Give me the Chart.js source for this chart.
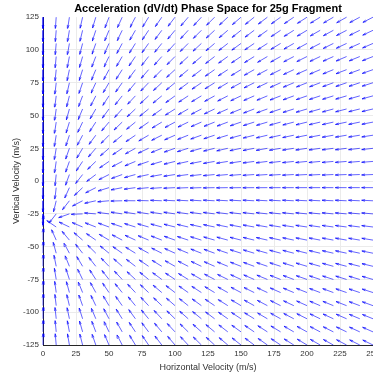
<!DOCTYPE html>
<html>
<head>
<meta charset="utf-8">
<script src="https://cdn.jsdelivr.net/npm/chart.js@4/dist/chart.umd.min.js"></script>
<style>
  html, body { margin: 0; padding: 0; background: #fff; overflow: hidden; }
  #wrap { width: 373px; height: 373px; overflow: hidden; position: relative; }
  canvas { display: block; }
</style>
</head>
<body>
<div id="wrap"><canvas id="c" width="390" height="373"></canvas></div>
<script>
// Grid of velocity states (m/s) where arrows are drawn
const horizontalVelocities = [0,10,20,30,40,50,60,70,80,90,100,110,120,130,140,150,160,170,180,190,200,210,220,230,240,250];
const verticalVelocities = [-125,-115,-105,-95,-85,-75,-65,-55,-45,-35,-25,-15,-5,5,15,25,35,45,55,65,75,85,95,105,115,125];
// Tick labels
const xTickValues = [0,25,50,75,100,125,150,175,200,225,250];
const yTickValues = [-125,-100,-75,-50,-25,0,25,50,75,100,125];
// Model parameters (terminal fall speed read from where the arrows converge)
const gravity = 9.81;
const terminalVelocity = 32;

const dragK = gravity / (terminalVelocity * terminalVelocity);
const arrowLen = 8.6;   // arrow length in data units (normalized direction)
const headA = 0.3, headB = 0.26;

const pts = [];
for (const vx of horizontalVelocities) {
  for (const vy of verticalVelocities) {
    const sp = Math.hypot(vx, vy);
    let ax = -dragK * sp * vx;
    let ay = -gravity - dragK * sp * vy;
    const m = Math.hypot(ax, ay) || 1;
    const u = ax / m * arrowLen, v = ay / m * arrowLen;
    const tx = vx + u, ty = vy + v;
    pts.push({x: vx, y: vy}, {x: tx, y: ty}, {x: tx, y: null});
    pts.push({x: tx - headA * (u + headB * v), y: ty - headA * (v - headB * u)});
    pts.push({x: tx, y: ty});
    pts.push({x: tx - headA * (u - headB * v), y: ty - headA * (v + headB * u)});
    pts.push({x: tx, y: null});
  }
}

const FONT = '"Liberation Sans", Arial, Helvetica, sans-serif';

// center the chart title over the plot area (as the original does)
const titleOverPlot = {
  id: 'titleOverPlot',
  afterLayout(chart) {
    const tb = chart.titleBlock, ca = chart.chartArea;
    if (tb && ca) { tb.left = ca.left; tb.right = ca.right; tb.width = ca.right - ca.left; }
  }
};

new Chart(document.getElementById('c'), {
  type: 'line',
  data: {
    datasets: [{
      label: 'dV/dt',
      data: pts,
      borderColor: 'rgba(0,0,255,0.72)',
      borderWidth: 0.85,
      pointRadius: 0,
      spanGaps: false,
      tension: 0,
      fill: false,
      clip: 4
    }]
  },
  plugins: [titleOverPlot],
  options: {
    responsive: false,
    animation: false,
    devicePixelRatio: 1,
    layout: { padding: { left: 0, right: 17, top: 0, bottom: 0 } },
    plugins: {
      legend: { display: false },
      tooltip: { enabled: false },
      title: {
        display: true,
        text: 'Acceleration (dV/dt) Phase Space for 25g Fragment',
        color: '#000',
        font: { family: FONT, size: 11, weight: 'bold' },
        padding: { top: 2, bottom: 2 }
      }
    },
    scales: {
      x: {
        type: 'linear',
        min: 0, max: 250,
        afterBuildTicks: s => { s.ticks = xTickValues.map(v => ({value: v})); },
        afterFit: s => { s.height = 28; },
        ticks: { color: '#333', font: { family: FONT, size: 8 }, padding: 4, maxRotation: 0, autoSkip: false },
        grid: { color: '#ebebeb', lineWidth: 1, drawTicks: false },
        border: { color: '#262626', width: 1 },
        title: { display: true, text: 'Horizontal Velocity (m/s)', color: '#333',
                 font: { family: FONT, size: 9 }, padding: { top: 0, bottom: 0 } }
      },
      y: {
        type: 'linear',
        min: -125, max: 125,
        afterBuildTicks: s => { s.ticks = yTickValues.map(v => ({value: v})); },
        afterFit: s => { s.width = 43; },
        ticks: { color: '#333', font: { family: FONT, size: 8 }, padding: 4, autoSkip: false },
        grid: { color: c => (c.tick && c.tick.value === 125) ? 'rgba(0,0,0,0)' : '#ebebeb', lineWidth: 1, drawTicks: false },
        border: { color: '#262626', width: 1 },
        title: { display: true, text: 'Vertical Velocity (m/s)', color: '#333',
                 font: { family: FONT, size: 9 }, padding: { top: 11, bottom: 0 } }
      }
    }
  }
});
</script>
</body>
</html>
